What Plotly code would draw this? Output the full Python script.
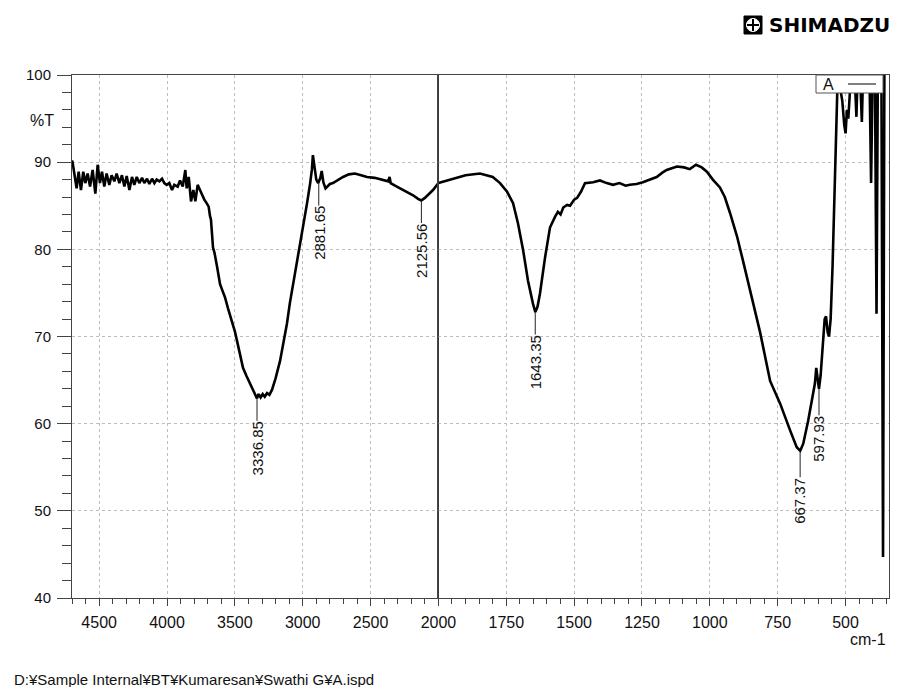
import plotly.graph_objects as go
from plotly.subplots import make_subplots

# ---------------- data ----------------
wavenumber = [
    4700, 4695, 4683, 4666, 4651, 4634, 4617, 4602, 4585, 4567, 4548, 4528, 4511, 4494, 4479, 4462,
    4445, 4425, 4408, 4388, 4371, 4351, 4332, 4314, 4297, 4277, 4258, 4241, 4223, 4204, 4184, 4167,
    4147, 4130, 4110, 4093, 4076, 4056, 4037, 4020, 4002, 3983, 3963, 3946, 3921, 3904, 3884, 3865,
    3855, 3840, 3823, 3806, 3791, 3774, 3757, 3742, 3725, 3708, 3693, 3683, 3676, 3661, 3650, 3631,
    3620, 3609, 3590, 3573, 3550, 3521, 3500, 3484, 3460, 3440, 3415, 3388, 3365, 3350, 3337, 3325,
    3310, 3295, 3280, 3263, 3245, 3226, 3200, 3167, 3140, 3116, 3095, 3071, 3045, 3020, 2995, 2968,
    2945, 2932, 2925, 2915, 2900, 2886, 2870, 2860, 2848, 2832, 2815, 2800, 2777, 2740, 2703, 2660,
    2615, 2570, 2526, 2470, 2408, 2370, 2360, 2352, 2320, 2283, 2240, 2187, 2150, 2126, 2100, 2070,
    2040, 2000, 1957, 1900, 1847, 1800, 1773, 1747, 1725, 1707, 1688, 1670, 1652, 1643, 1635, 1626,
    1607, 1589, 1571, 1560, 1550, 1540, 1526, 1515, 1500, 1489, 1475, 1460, 1430, 1405, 1380, 1357,
    1333, 1310, 1295, 1270, 1247, 1220, 1196, 1175, 1159, 1140, 1121, 1095, 1074, 1051, 1030, 1011,
    989, 963, 945, 926, 900, 878, 850, 815, 778, 741, 704, 680, 667, 656, 638, 624,
    613, 608, 603, 598, 592, 583, 577, 572, 566, 561, 555, 548, 542, 537, 532, 528,
    520, 512, 505, 500, 495, 490, 485, 480, 475, 468, 460, 455, 448, 440, 435, 420,
    412, 406, 400, 392, 386, 381, 375, 368, 362, 357, 345, 340,
]
transmittance = [
    90.2, 89.9, 88.7, 87.0, 88.9, 86.8, 88.9, 87.6, 88.7, 87.2, 89.1, 86.4, 89.7, 87.6, 88.9, 87.2,
    88.7, 87.4, 88.5, 87.8, 88.7, 87.6, 88.5, 87.2, 88.4, 86.8, 88.3, 87.4, 88.3, 87.6, 88.2, 87.6,
    88.1, 87.5, 88.1, 87.6, 88.0, 87.8, 88.1, 87.6, 87.4, 87.6, 86.8, 87.4, 87.2, 87.9, 87.2, 89.1,
    87.0, 88.3, 85.5, 86.8, 85.5, 87.4, 86.8, 86.2, 85.7, 85.3, 84.9, 83.8, 83.4, 80.2, 79.6, 78.0,
    77.2, 76.0, 75.2, 74.5, 73.2, 71.8, 70.6, 69.5, 67.8, 66.4, 65.5, 64.6, 63.9, 63.3, 62.9, 63.4,
    63.0, 63.4, 63.1, 63.5, 63.3, 63.9, 65.2, 67.2, 69.4, 71.5, 73.8, 76.0, 78.2, 80.2, 82.8, 85.3,
    87.6, 89.2, 90.8, 89.4, 88.0, 87.6, 88.2, 89.0, 87.7, 87.0, 87.3, 87.5, 87.6, 88.0, 88.3, 88.6,
    88.7, 88.5, 88.3, 88.2, 87.9, 87.8, 88.3, 87.6, 87.3, 87.0, 86.6, 86.2, 85.8, 85.6, 85.9, 86.4,
    86.8, 87.6, 88.0, 88.5, 88.7, 88.3, 87.6, 86.6, 85.3, 83.0, 79.9, 76.4, 73.8, 72.8, 73.4, 74.9,
    79.1, 82.5, 83.7, 84.3, 84.0, 84.8, 85.1, 85.0, 85.7, 85.9, 86.6, 87.6, 87.7, 87.9, 87.6, 87.4,
    87.6, 87.3, 87.4, 87.5, 87.7, 88.0, 88.3, 88.8, 89.1, 89.3, 89.5, 89.4, 89.2, 89.7, 89.4, 88.9,
    88.0, 87.1, 86.0, 84.2, 81.5, 78.7, 75.0, 70.5, 64.9, 62.3, 59.2, 57.3, 56.9, 57.7, 60.3, 63.0,
    64.6, 66.4, 65.0, 64.0, 65.5, 70.0, 72.0, 72.3, 70.5, 70.0, 72.0, 78.0, 85.0, 92.0, 97.0, 101.0,
    98.5, 97.0, 94.3, 93.3, 96.0, 95.0, 97.5, 101.0, 98.0, 101.0, 95.2, 101.0, 101.0, 94.6, 101.0, 101.0,
    100.5, 87.6, 101.0, 101.0, 72.6, 101.0, 100.5, 101.0, 44.7, 101.0, 101.0, 101.0,
]

peak_wavenumbers = [3336.85, 2881.65, 2125.56, 1643.35, 667.37, 597.93]
peak_transmittance = [62.9, 87.6, 85.6, 72.8, 56.9, 64.0]
peak_labels = ["3336.85", "2881.65", "2125.56", "1643.35", "667.37", "597.93"]

left_ticks = [4500, 4000, 3500, 3000, 2500, 2000]
right_ticks = [1750, 1500, 1250, 1000, 750, 500]
y_ticks = [40, 50, 60, 70, 80, 90, 100]

series_name = "A"
y_title = "%T"
x_title = "cm-1"
file_path = "D:¥Sample Internal¥BT¥Kumaresan¥Swathi G¥A.ispd"
brand = "SHIMADZU"

SPLIT = 2000
LEFT_RANGE = [4700, SPLIT]
RIGHT_RANGE = [SPLIT, 340]

# ---------------- figure ----------------
W, H = 909, 687
ML, MR, MT, MB = 64, 10, 67, 97
OX, OY = 8, 8          # page offset of the plot div
W_EFF = W - 18         # width the page actually renders
PW, PH = W_EFF - ML - MR, H - MT - MB


def px(x):
    # target picture pixel -> paper x
    return (x - OX - ML) / PW


def py(y):
    return (H - MB - (y - OY)) / PH


FONT = "Liberation Sans, Arial, sans-serif"

left_span = LEFT_RANGE[0] - LEFT_RANGE[1]
right_span = (RIGHT_RANGE[0] - RIGHT_RANGE[1]) * 2

fig = make_subplots(rows=1, cols=2, shared_yaxes=True, horizontal_spacing=0,
                    column_widths=[left_span, right_span])

lx = [w for w in wavenumber if w >= SPLIT]
ly = [t for w, t in zip(wavenumber, transmittance) if w >= SPLIT]
rx = [w for w in wavenumber if w <= SPLIT]
ry = [t for w, t in zip(wavenumber, transmittance) if w <= SPLIT]

line_style = dict(color="black", width=2.6)
fig.add_trace(go.Scatter(x=lx, y=ly, mode="lines", line=line_style, name=series_name,
                         showlegend=False, hoverinfo="x+y"), row=1, col=1)
fig.add_trace(go.Scatter(x=rx, y=ry, mode="lines", line=line_style, name=series_name,
                         showlegend=False, hoverinfo="x+y"), row=1, col=2)

grid = dict(showgrid=True, gridcolor="#bdbdbd", gridwidth=1, griddash="dot")
axis_line = dict(showline=True, linecolor="#444444", linewidth=1, mirror=True, zeroline=False)
tickfont_x = dict(family=FONT, size=16, color="#111111")

fig.update_xaxes(range=LEFT_RANGE, tickmode="array", tickvals=left_ticks,
                 ticktext=[str(v) for v in left_ticks],
                 ticks="outside", ticklen=7, tickcolor="#444444",
                 minor=dict(dtick=100, tick0=0, ticks="outside", ticklen=5, tickcolor="#444444", showgrid=False),
                 tickfont=tickfont_x, ticklabelstandoff=3, **grid, **axis_line, row=1, col=1)
fig.update_xaxes(range=RIGHT_RANGE, tickmode="array", tickvals=right_ticks,
                 ticktext=[str(v) for v in right_ticks],
                 ticks="outside", ticklen=7, tickcolor="#444444",
                 minor=dict(dtick=50, tick0=0, ticks="outside", ticklen=5, tickcolor="#444444", showgrid=False),
                 tickfont=tickfont_x, ticklabelstandoff=3, **grid, **axis_line, row=1, col=2)
fig.update_yaxes(range=[40, 100], tickmode="array", tickvals=y_ticks,
                 ticktext=[str(v) for v in y_ticks],
                 ticks="outside", ticklen=14, tickcolor="#444444",
                 minor=dict(dtick=2, tick0=0, ticks="outside", ticklen=9, tickcolor="#444444", showgrid=False),
                 tickfont=dict(family=FONT, size=15, color="#111111"), ticklabelstandoff=3,
                 **grid, **axis_line, row=1, col=1)
fig.update_yaxes(range=[40, 100], ticks="", showticklabels=False, **grid, **axis_line, row=1, col=2)

# peak labels
for w, t, lab in zip(peak_wavenumbers, peak_transmittance, peak_labels):
    xr = "x" if w >= SPLIT else "x2"
    fig.add_annotation(x=w, y=t, xref=xr, yref="y", text=lab, textangle=-90,
                       showarrow=True, arrowhead=0, arrowwidth=1, arrowcolor="#222222",
                       ax=0, ay=50, font=dict(family=FONT, size=15, color="#111111"),
                       borderpad=0)

annotations_text = [
    dict(x=px(42), y=py(120), text=y_title, xanchor="center", yanchor="middle",
         font=dict(family=FONT, size=16, color="#111111")),
    dict(x=px(888), y=py(639), text=x_title, xanchor="right", yanchor="middle",
         font=dict(family=FONT, size=16, color="#111111")),
    dict(x=px(12), y=py(679), text=file_path, xanchor="left", yanchor="middle",
         font=dict(family=FONT, size=15, color="#111111")),
    dict(x=px(828), y=py(84.5), text=series_name, xanchor="center", yanchor="middle",
         font=dict(family=FONT, size=16, color="#111111")),
    dict(x=px(767), y=py(25), text="<b>" + brand + "</b>", xanchor="left", yanchor="middle",
         font=dict(family="DejaVu Sans, sans-serif", size=20, color="black")),
]
for a in annotations_text:
    fig.add_annotation(xref="paper", yref="paper", showarrow=False, **a)

shapes = [
    # scale change divider at 2000
    dict(type="line", xref="x2", yref="y", x0=SPLIT, x1=SPLIT, y0=40, y1=100,
         line=dict(color="#333333", width=1)),
    # legend box
    dict(type="rect", xref="paper", yref="paper", x0=px(816), x1=px(883), y0=py(93), y1=py(75),
         fillcolor="white", line=dict(color="#555555", width=1), layer="above"),
    dict(type="line", xref="paper", yref="paper", x0=px(848), x1=px(876), y0=py(84), y1=py(84),
         line=dict(color="black", width=1), layer="above"),
    # logo icon
    dict(type="rect", xref="paper", yref="paper", x0=px(744), x1=px(762), y0=py(34), y1=py(16),
         fillcolor="black", line=dict(color="black", width=1), layer="above"),
    dict(type="circle", xref="paper", yref="paper", x0=px(746.5), x1=px(759.5), y0=py(31.5), y1=py(18.5),
         fillcolor="white", line=dict(color="white", width=1), layer="above"),
    dict(type="line", xref="paper", yref="paper", x0=px(753), x1=px(753), y0=py(31), y1=py(19),
         line=dict(color="black", width=2), layer="above"),
    dict(type="line", xref="paper", yref="paper", x0=px(747), x1=px(759), y0=py(25), y1=py(25),
         line=dict(color="black", width=2), layer="above"),
]
for s in shapes:
    fig.add_shape(**s)

fig.update_layout(width=W, height=H, margin=dict(l=ML, r=MR, t=MT, b=MB),
                  paper_bgcolor="white", plot_bgcolor="white", showlegend=False,
                  font=dict(family=FONT, color="#111111"))

fig.write_html("out.html")
